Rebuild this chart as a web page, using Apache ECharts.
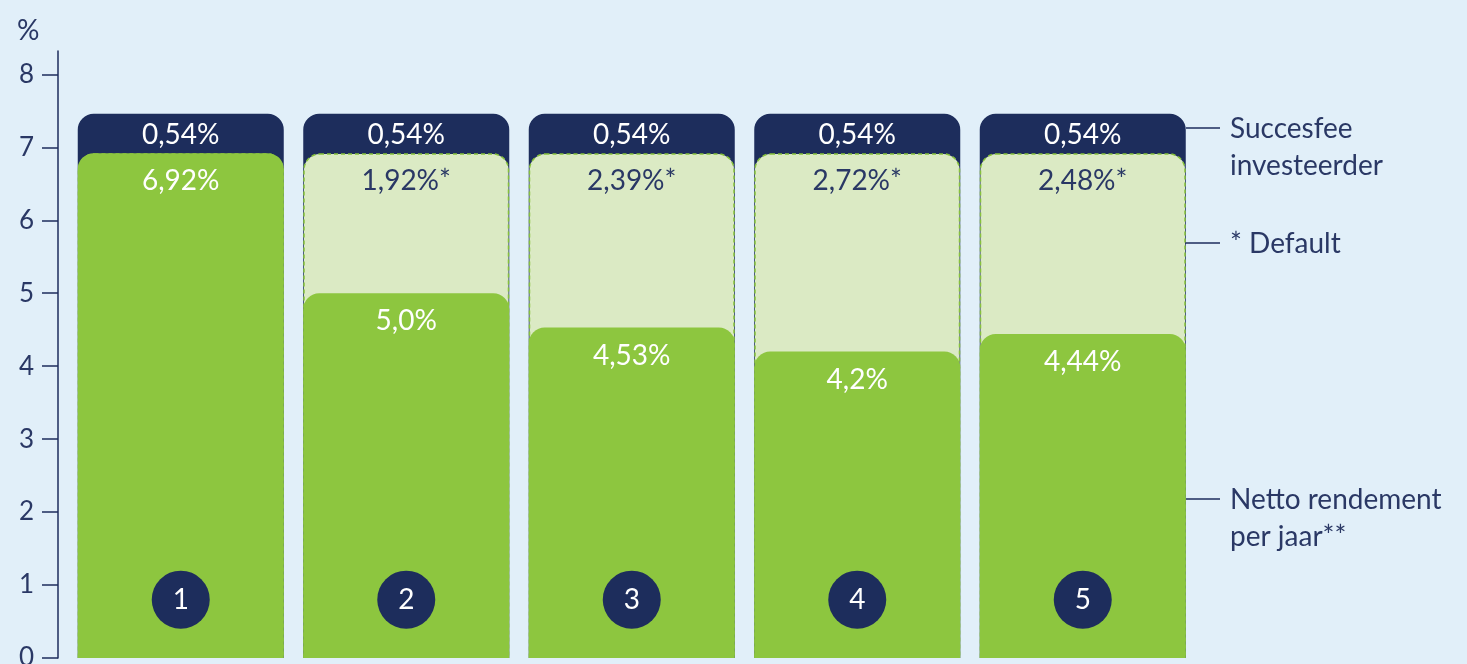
<!DOCTYPE html>
<html>
<head>
<meta charset="utf-8">
<script src="https://cdn.jsdelivr.net/npm/echarts@6/dist/echarts.min.js"></script>
<style>
  html, body { margin: 0; padding: 0; background: #e1eff9; }
  #chart { width: 1467px; height: 664px; }
</style>
</head>
<body>
<div id="chart"></div>
<script>
// data
const categories = ['1', '2', '3', '4', '5'];
const netto = [6.92, 5.0, 4.53, 4.2, 4.44];
const defaults = [0, 1.92, 2.39, 2.72, 2.48];
const succesfee = [0.54, 0.54, 0.54, 0.54, 0.54];
const nettoLabels = ['6,92%', '5,0%', '4,53%', '4,2%', '4,44%'];
const defaultLabels = ['', '1,92%*', '2,39%*', '2,72%*', '2,48%*'];
const feeLabels = ['0,54%', '0,54%', '0,54%', '0,54%', '0,54%'];
const yTicks = [0, 1, 2, 3, 4, 5, 6, 7, 8];

const NAVY = '#1d2d5c';
const GREEN = '#8dc63f';
const LIGHT = '#dbeac4';
const TEXT = '#2a3865';
const FONT = 'Lato';

// bars overlap (barGap -100%), so each one is drawn up to its cumulative height
const midTop = netto.map((v, i) => v + defaults[i]);
const totalTop = midTop.map((v, i) => v + succesfee[i]);

const chart = echarts.init(document.getElementById('chart'));

chart.setOption({
  backgroundColor: '#e1eff9',
  animation: false,
  title: {
    text: '%', left: 12, top: 12,
    textStyle: { color: TEXT, fontFamily: FONT, fontSize: 28, fontWeight: 'normal' }
  },
  grid: { left: 68, right: 271.5, top: 51, bottom: 6, outerBoundsMode: 'none', containLabel: false },
  xAxis: {
    type: 'category',
    data: categories,
    show: false
  },
  yAxis: {
    type: 'value',
    min: 0,
    max: 8.32,
    offset: 10,
    splitLine: { show: false },
    axisLine: { show: true, lineStyle: { color: NAVY, width: 1.5 } },
    axisTick: { show: true, length: 16, customValues: yTicks, lineStyle: { color: NAVY, width: 1.5 } },
    axisLabel: {
      customValues: yTicks, margin: 24,
      color: TEXT, fontFamily: FONT, fontSize: 26
    }
  },
  series: [
    {
      name: 'Succesfee investeerder',
      type: 'bar',
      data: totalTop,
      barWidth: 206,
      barGap: '-100%',
      itemStyle: { color: NAVY, borderRadius: [16, 16, 0, 0] },
      label: {
        show: true, position: 'insideTop', distance: 7,
        formatter: p => feeLabels[p.dataIndex],
        color: '#ffffff', fontFamily: FONT, fontSize: 28
      }
    },
    {
      name: 'Default',
      type: 'bar',
      data: midTop,
      barWidth: 206,
      barGap: '-100%',
      itemStyle: {
        color: LIGHT, borderRadius: [16, 16, 0, 0],
        borderColor: '#86c23a', borderWidth: 1.5, borderType: [4, 3]
      },
      label: {
        show: true, position: 'insideTop', distance: 14,
        formatter: p => defaultLabels[p.dataIndex],
        color: TEXT, fontFamily: FONT, fontSize: 28
      }
    },
    {
      name: 'Netto rendement',
      type: 'bar',
      data: netto,
      barWidth: 206,
      barGap: '-100%',
      itemStyle: { color: GREEN, borderRadius: [16, 16, 0, 0] },
      label: {
        show: true, position: 'insideTop', distance: 14,
        formatter: p => nettoLabels[p.dataIndex],
        color: '#ffffff', fontFamily: FONT, fontSize: 28
      }
    },
    {
      // numbered circles
      type: 'scatter',
      data: categories.map(c => [c, 0.8]),
      symbol: 'circle',
      symbolSize: 58,
      z: 5,
      itemStyle: { color: NAVY, opacity: 1 },
      emphasis: { disabled: true },
      label: {
        show: true, position: 'inside',
        formatter: p => p.value[0],
        color: '#ffffff', fontFamily: FONT, fontSize: 28
      }
    }
  ],
  graphic: [
    { type: 'line', shape: { x1: 1186, y1: 128, x2: 1220, y2: 128 }, style: { stroke: NAVY, lineWidth: 1.5 } },
    { type: 'line', shape: { x1: 1180, y1: 243, x2: 1220, y2: 243 }, style: { stroke: NAVY, lineWidth: 1.5 } },
    { type: 'line', shape: { x1: 1180, y1: 499, x2: 1220, y2: 499 }, style: { stroke: NAVY, lineWidth: 1.5 } },
    {
      type: 'text', x: 1230, y: 110,
      style: { text: 'Succesfee\ninvesteerder', fill: TEXT, font: '28px Lato', lineHeight: 37, verticalAlign: 'top' }
    },
    {
      type: 'text', x: 1230, y: 225,
      style: { text: '* Default', fill: TEXT, font: '28px Lato', lineHeight: 37, verticalAlign: 'top' }
    },
    {
      type: 'text', x: 1230, y: 481,
      style: { text: 'Netto rendement\nper jaar**', fill: TEXT, font: '28px Lato', lineHeight: 37, verticalAlign: 'top' }
    }
  ]
});
</script>
</body>
</html>
